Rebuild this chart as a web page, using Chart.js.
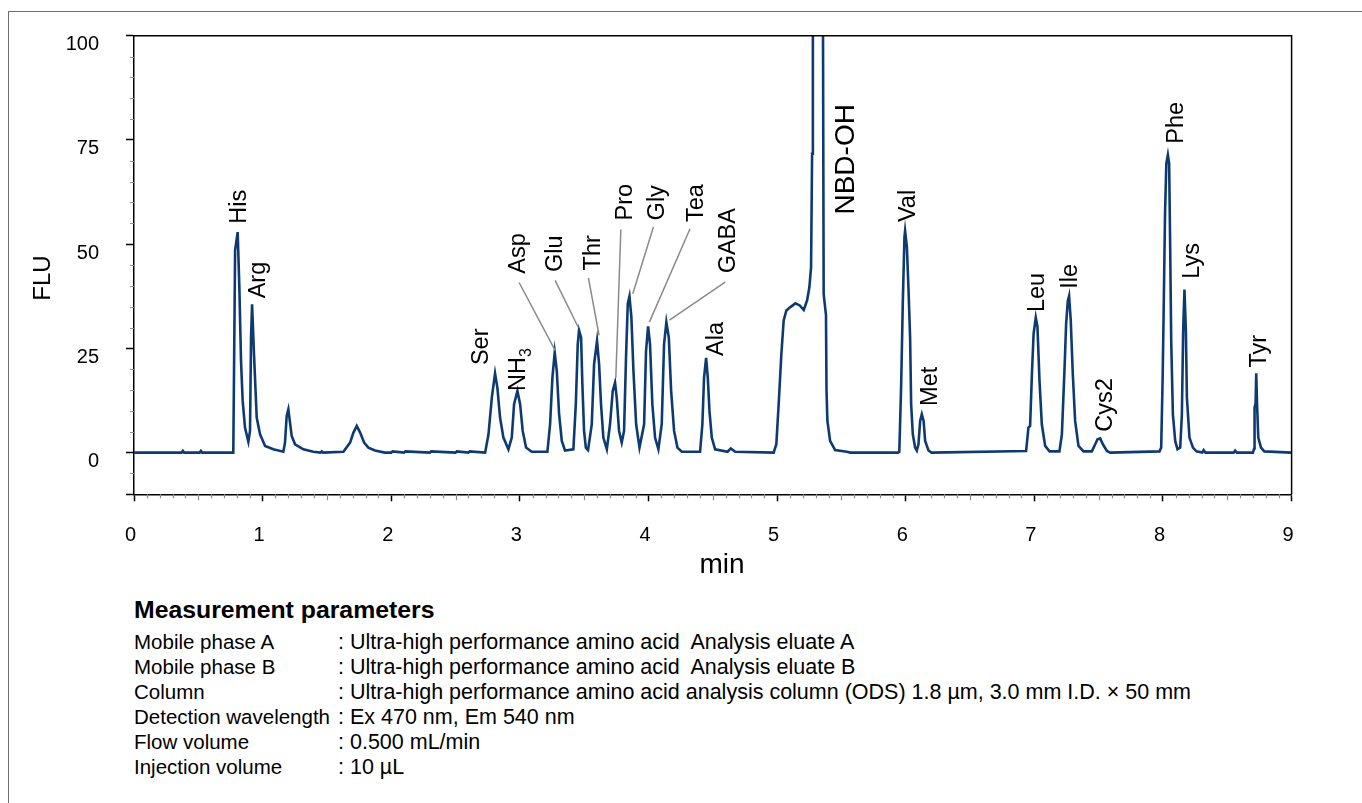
<!DOCTYPE html>
<html>
<head>
<meta charset="utf-8">
<title>Amino acid chromatogram</title>
<script src="https://cdn.jsdelivr.net/npm/chart.js@4.4.1/dist/chart.umd.min.js"></script>
<style>
  html, body { margin: 0; padding: 0; background: #fff; }
  body { width: 1362px; height: 803px; position: relative; overflow: hidden;
         font-family: "Liberation Sans", Arial, Helvetica, sans-serif; color: #000; }
  #frame { position: absolute; left: 8px; top: 11px; width: 1400px; height: 900px;
           border-left: 1.5px solid #6e6e6e; border-top: 1.5px solid #6e6e6e; }
  #chartBox { position: absolute; left: 0; top: 0; width: 1362px; height: 590px; }
  #params { position: absolute; left: 134px; top: 594px; width: 1150px; }
  #params .ttl { font-size: 24.8px; line-height: 31px; height: 31px; font-weight: bold; margin-bottom: 3.5px; }
  #params .row { height: 25px; line-height: 25px; white-space: pre; font-size: 21.5px; }
  #params .key { display: inline-block; width: 204px; font-size: 20.5px; }
</style>
</head>
<body>
<div id="frame"></div>
<div id="chartBox"><canvas id="chromatogram" width="1362" height="590"></canvas></div>
<div id="params">
  <div class="ttl">Measurement parameters</div>
  <div id="paramRows"></div>
</div>

<script>
// Trace: retention time (min) and response (FLU)
const frontTime = [0, 0.37, 0.38, 0.39, 0.51, 0.52, 0.53, 0.772];
const frontFlu  = [0, 0, 0.4, 0, 0, 0.4, 0, 0];

const hisArgTime = [0.786, 0.806, 0.819, 0.832, 0.845, 0.863, 0.889, 0.902, 0.910, 0.918, 0.933, 0.954, 0.980, 1.019, 1.083, 1.161];
const hisArgFlu  = [48.5, 52.9, 39.7, 22.0, 12.4, 6.0, 2.6, 5.2, 27.6, 35.6, 23.6, 8.4, 4.4, 1.6, 0.8, 0.2];

const earlyTime = [1.174, 1.187, 1.200, 1.213, 1.226, 1.252, 1.317, 1.394, 1.45, 1.46, 1.47, 1.628, 1.680, 1.706, 1.732, 1.758,
                   1.789, 1.822, 1.874, 1.95, 2.00, 2.01, 2.10, 2.11, 2.30, 2.31, 2.50, 2.51, 2.60, 2.61, 2.73];
const earlyFlu  = [2.4, 8.8, 10.4, 7.2, 4.0, 2.0, 0.8, 0.2, 0, 0.3, 0, 0.2, 2.4, 4.8, 6.4, 4.8,
                   2.4, 1.2, 0.5, 0, 0, 0.3, 0, 0.3, 0, 0.3, 0, 0.3, 0, 0.3, 0];

const serThrTime = [2.756, 2.782, 2.807, 2.825, 2.846, 2.872, 2.911, 2.937, 2.955, 2.981, 3.002, 3.022, 3.048, 3.092,
                    3.214, 3.235, 3.253, 3.271, 3.287, 3.305, 3.326, 3.351, 3.416, 3.435, 3.450, 3.460, 3.476, 3.486,
                    3.499, 3.513, 3.530, 3.559, 3.577, 3.600, 3.616, 3.631, 3.649, 3.676];
const serThrFlu  = [4.4, 13.2, 19.0, 15.6, 8.4, 3.6, 0.8, 3.6, 11.6, 14.8, 11.6, 5.2, 1.2, 0.2,
                    0.2, 6.8, 18.0, 24.0, 19.6, 9.2, 2.8, 0.5, 0.8, 11.6, 26.0, 29.3, 27.6, 16.4,
                    5.2, 1.2, 0.6, 6.8, 21.2, 26.8, 21.2, 11.6, 3.6, 0.8];

const proAlaTime = [3.701, 3.722, 3.740, 3.753, 3.771, 3.792, 3.810, 3.826, 3.839, 3.852, 3.867, 3.883, 3.904, 3.930,
                    3.966, 3.981, 3.997, 4.012, 4.030, 4.051, 4.077, 4.103, 4.121, 4.139, 4.158, 4.176, 4.199, 4.225,
                    4.259, 4.401, 4.419, 4.432, 4.448, 4.461, 4.474, 4.492, 4.518, 4.615, 4.640, 4.674, 4.973];
const proAlaFlu  = [6.8, 14.8, 16.8, 13.2, 5.2, 2.4, 5.2, 23.6, 35.7, 37.5, 32.5, 19.6, 6.8, 1.2,
                    6.8, 24.4, 30.3, 26.0, 11.6, 3.6, 0.8, 6.8, 26.0, 31.3, 27.6, 14.8, 5.2, 1.2,
                    0.2, 0.2, 6.8, 18.0, 22.7, 18.0, 10.0, 3.6, 0.8, 0.2, 1.0, 0.2, 0];

// NBD-OH goes off scale, the apex value is a guess above the axis
const nbdTime = [4.994, 5.012, 5.033, 5.051, 5.072, 5.103, 5.142, 5.176, 5.207, 5.233, 5.251, 5.264, 5.272, 5.278,
                 5.300, 5.356, 5.362, 5.380, 5.384, 5.391, 5.412, 5.451, 5.542, 5.570];
const nbdFlu  = [2.0, 11.6, 23.6, 31.7, 34.1, 34.9, 35.8, 35.3, 34.2, 36.5, 39.7, 44.5, 71.7, 110,
                 400, 110, 38.0, 33.0, 15.0, 7.6, 2.8, 0.6, 0.2, 0];

const valMetTime = [5.94, 5.95, 5.964, 5.977, 5.990, 5.995, 6.009, 6.021, 6.034, 6.042, 6.055, 6.073, 6.086,
                    6.099, 6.112, 6.125, 6.139, 6.151, 6.177, 6.200];
const valMetFlu  = [0, 0.2, 15.6, 35.7, 51.7, 53.2, 49.3, 39.7, 27.6, 11.6, 4.4, 1.2, 0.5,
                    2.0, 7.6, 9.2, 7.6, 2.8, 0.5, 0];

const leuCysTime = [6.936, 6.954, 6.967, 6.981, 6.994, 7.011, 7.024, 7.040, 7.058, 7.084, 7.118, 7.195, 7.214, 7.234,
                    7.247, 7.260, 7.270, 7.283, 7.299, 7.317, 7.343, 7.382, 7.447, 7.473, 7.491, 7.512, 7.533, 7.564, 7.590];
const leuCysFlu  = [0.4, 6.0, 6.4, 18.8, 28.5, 32.4, 30.2, 17.2, 6.8, 1.6, 0.3, 0.3, 4.4, 19.6,
                    30.9, 36.4, 37.6, 31.7, 18.8, 7.6, 1.6, 0.3, 0.3, 2.0, 3.2, 3.4, 2.0, 0.4, 0];

const pheTyrTime = [7.973, 7.986, 7.997, 8.005, 8.016, 8.026, 8.038, 8.048, 8.056, 8.064, 8.077, 8.095, 8.113, 8.134,
                    8.147, 8.157, 8.167, 8.178, 8.186, 8.206, 8.233, 8.260, 8.305, 8.316, 8.330, 8.550, 8.561, 8.575,
                    8.699, 8.709, 8.712, 8.720, 8.725, 8.731, 8.741, 8.762, 8.788, 9.0];
const pheTyrFlu  = [0.3, 1.2, 17.2, 33.3, 57.3, 69.3, 71.4, 69.3, 49.3, 26.8, 9.2, 2.8, 0.8, 1.2,
                    9.2, 29.3, 39.1, 29.3, 13.2, 3.6, 1.2, 0.3, 0, 0.6, 0, 0, 0.5, 0,
                    0, 1.0, 10.8, 11.8, 19.0, 12.0, 3.6, 1.2, 0.3, 0];

// Peak names, placed by the time (min) and level (FLU) where the text starts
const peakNames  = ['His', 'Arg', 'Ser', 'NH3', 'Asp', 'Glu', 'Thr', 'Pro', 'Gly', 'Tea', 'GABA', 'Ala',
                    'NBD-OH', 'Val', 'Met', 'Leu', 'Ile', 'Cys2', 'Phe', 'Lys', 'Tyr'];
const labelTime  = [0.806, 0.954, 2.685, 2.978, 2.976, 3.266, 3.559, 3.806, 4.052, 4.355, 4.611, 4.516,
                    5.521, 6.003, 6.174, 7.009, 7.268, 7.538, 8.087, 8.212, 8.738];
const labelLevel = [54.9, 37.0, 21.0, 14.8, 42.9, 43.3, 43.7, 55.7, 55.7, 55.3, 43.0, 23.2,
                    57.1, 55.3, 11.2, 33.7, 39.3, 5.0, 74.1, 41.7, 20.4];

// Leader lines from crowded labels down to their peaks
const leaderFromTime  = [2.994, 3.274, 3.533, 3.785, 4.038, 4.323, 4.596];
const leaderFromLevel = [40.8, 41.3, 41.9, 53.5, 54.1, 53.7, 40.9];
const leaderToTime    = [3.274, 3.455, 3.616, 3.746, 3.878, 4.007, 4.163];
const leaderToLevel   = [24.5, 30.0, 28.1, 17.9, 38.1, 31.3, 31.8];

const yTickHide = -10;   // bottom of the axis carries a tick but no label

const paramNames  = ['Mobile phase A', 'Mobile phase B', 'Column', 'Detection wavelength', 'Flow volume', 'Injection volume'];
const paramValues = [': Ultra-high performance amino acid  Analysis eluate A',
                     ': Ultra-high performance amino acid  Analysis eluate B',
                     ': Ultra-high performance amino acid analysis column (ODS) 1.8 µm, 3.0 mm I.D. × 50 mm',
                     ': Ex 470 nm, Em 540 nm',
                     ': 0.500 mL/min',
                     ': 10 µL'];

function buildTrace() {
    const parts = [
        [frontTime, frontFlu], [hisArgTime, hisArgFlu], [earlyTime, earlyFlu],
        [serThrTime, serThrFlu], [proAlaTime, proAlaFlu], [nbdTime, nbdFlu],
        [valMetTime, valMetFlu], [leuCysTime, leuCysFlu], [pheTyrTime, pheTyrFlu]
    ];
    const points = [];
    parts.forEach(([t, v]) => {
        if (t.length !== v.length) console.warn('length mismatch', t.length, v.length);
        t.forEach((time, i) => points.push({ x: time, y: v[i] }));
    });
    return points;
}

function fillParams() {
    const box = document.getElementById('paramRows');
    paramNames.forEach((name, i) => {
        const row = document.createElement('div');
        row.className = 'row';
        const k = document.createElement('span');
        k.className = 'key';
        k.textContent = name;
        row.appendChild(k);
        row.appendChild(document.createTextNode(paramValues[i]));
        box.appendChild(row);
    });
}

const FONT = '"Liberation Sans", Arial, Helvetica, sans-serif';

// minor ticks and the top/right sides of the plot box
const boxAndMinorTicks = {
    id: 'boxAndMinorTicks',
    afterDraw(chart) {
        const { ctx, chartArea: a, scales: { x, y } } = chart;
        ctx.save();
        ctx.strokeStyle = '#8c8c8c';
        ctx.lineWidth = 1.2;
        ctx.beginPath();
        for (let i = 1; i < 90; i++) {
            if (i % 10 === 0) continue;
            const px = Math.round(x.getPixelForValue(i / 10)) + 0.5;
            const len = i % 5 === 0 ? 6 : 4;
            ctx.moveTo(px, a.bottom);
            ctx.lineTo(px, a.bottom + len);
        }
        for (let v = -5; v < 100; v += 5) {
            if (v % 25 === 0) continue;
            const py = Math.round(y.getPixelForValue(v)) + 0.5;
            ctx.moveTo(a.left - 4, py);
            ctx.lineTo(a.left, py);
        }
        ctx.stroke();

        ctx.strokeStyle = '#000';
        ctx.lineWidth = 1.5;
        ctx.beginPath();
        ctx.moveTo(a.left, a.top);
        ctx.lineTo(a.right, a.top);
        ctx.lineTo(a.right, a.bottom);
        ctx.stroke();

        // axis titles
        ctx.fillStyle = '#000';
        ctx.textAlign = 'center';
        ctx.textBaseline = 'middle';
        ctx.font = '28px ' + FONT;
        ctx.fillText('min', 722, 565);
        ctx.save();
        ctx.translate(43, 278);
        ctx.rotate(-Math.PI / 2);
        ctx.font = '24px ' + FONT;
        ctx.fillText('FLU', 0, 0);
        ctx.restore();
        ctx.restore();
    }
};

// rotated peak names and their leader lines
const peakLabels = {
    id: 'peakLabels',
    afterDatasetsDraw(chart) {
        const { ctx, scales: { x, y } } = chart;
        ctx.save();
        ctx.strokeStyle = '#8a8a8a';
        ctx.lineWidth = 1.5;
        ctx.beginPath();
        leaderFromTime.forEach((t, i) => {
            ctx.moveTo(x.getPixelForValue(t), y.getPixelForValue(leaderFromLevel[i]));
            ctx.lineTo(x.getPixelForValue(leaderToTime[i]), y.getPixelForValue(leaderToLevel[i]));
        });
        ctx.stroke();

        ctx.fillStyle = '#000';
        ctx.textAlign = 'left';
        ctx.textBaseline = 'alphabetic';
        peakNames.forEach((name, i) => {
            const size = name === 'NBD-OH' ? 28 : 23.5;
            const capHalf = size * 0.716 / 2;
            ctx.save();
            ctx.translate(x.getPixelForValue(labelTime[i]), y.getPixelForValue(labelLevel[i]));
            ctx.rotate(-Math.PI / 2);
            ctx.font = size + 'px ' + FONT;
            if (name === 'NH3') {
                ctx.fillText('NH', 0, capHalf);
                const w = ctx.measureText('NH').width;
                ctx.font = (size * 0.68) + 'px ' + FONT;
                ctx.fillText('3', w, capHalf + size * 0.22);
            } else {
                ctx.fillText(name, 0, capHalf);
            }
            ctx.restore();
        });
        ctx.restore();
    }
};

function init() {
    fillParams();
    Chart.defaults.font.family = FONT;
    Chart.defaults.color = '#000';

    const ctx = document.getElementById('chromatogram').getContext('2d');
    new Chart(ctx, {
        type: 'line',
        data: {
            datasets: [{
                label: 'FLU',
                data: buildTrace(),
                borderColor: '#0e3a72',
                borderWidth: 2.6,
                pointRadius: 0,
                tension: 0,
                fill: false
            }]
        },
        options: {
            responsive: false,
            animation: false,
            devicePixelRatio: 1,
            layout: { padding: { top: 35.7, right: 70.4, bottom: 0, left: 0 } },
            plugins: { legend: { display: false }, tooltip: { enabled: false } },
            scales: {
                x: {
                    type: 'linear',
                    min: 0,
                    max: 9,
                    afterFit: s => { s.height = 95.7; s.paddingLeft = 0; s.paddingRight = 0; },
                    ticks: { stepSize: 1, font: { size: 20 }, color: '#000', padding: 22, labelOffset: -3.5, maxRotation: 0 },
                    grid: { drawOnChartArea: false, drawTicks: true, tickLength: 7, tickColor: '#000', tickWidth: 1.5 },
                    border: { display: true, color: '#000', width: 1.5 }
                },
                y: {
                    type: 'linear',
                    min: -10,
                    max: 100,
                    // keep the plot top where the reference has it
                    afterFit: s => { s.width = 134; s.paddingTop = 0; s.paddingBottom = 0; },
                    ticks: {
                        stepSize: 25,
                        font: { size: 20 },
                        color: '#000',
                        padding: 27,
                        labelOffset: 9,
                        callback: v => (v === yTickHide ? '' : v)
                    },
                    grid: { drawOnChartArea: false, drawTicks: true, tickLength: 8, tickColor: '#000', tickWidth: 1.5 },
                    border: { display: true, color: '#000', width: 1.5 }
                }
            }
        },
        plugins: [boxAndMinorTicks, peakLabels]
    });
}

window.addEventListener('load', init);
</script>
</body>
</html>
